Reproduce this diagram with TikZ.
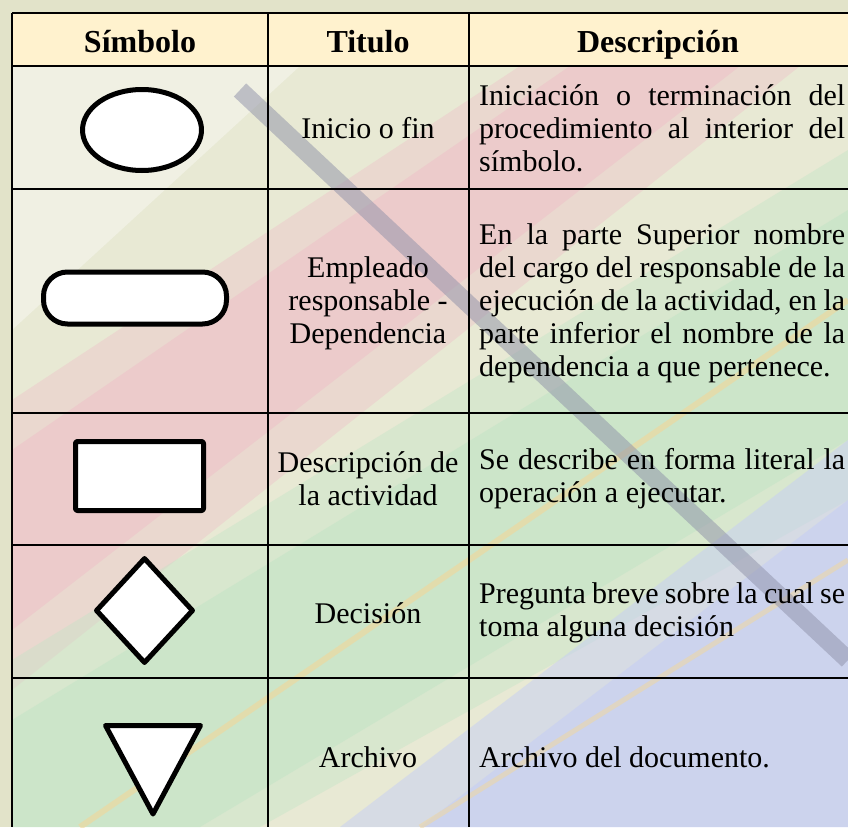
\documentclass[tikz,border=0pt]{standalone}
\usepackage{fontspec}
\setmainfont{Liberation Serif}
\usetikzlibrary{shapes.geometric}
\definecolor{fondo}{HTML}{E2E3C9}
\definecolor{cabecera}{HTML}{FFF2CE}
\definecolor{rosa}{HTML}{EEBFC8}
\definecolor{verde}{HTML}{C2E4C6}
\definecolor{azul}{HTML}{C6CEF4}
\definecolor{gris}{HTML}{8E90A8}
\definecolor{amarillo}{HTML}{F2D79A}
\newcommand{\jline}[1]{\makebox[366pt][s]{#1}}

\begin{document}
\begin{tikzpicture}[x=1pt,y=-1pt,
	linea/.style={line width=2.6pt},
	simbolo/.style={draw=black, fill=white, line width=5pt, line join=round, inner sep=0pt},
	titulo/.style={font=\fontsize{32}{36}\selectfont\bfseries},
	texto/.style={font=\fontsize{30}{33}\selectfont, align=center, inner sep=0pt},
	desc/.style={font=\fontsize{30}{33}\selectfont, align=left, anchor=west, inner sep=0pt}]
	\useasboundingbox (0,0) rectangle (848,827);
	\fill[fondo] (0,0) rectangle (848,827);
	\fill[cabecera] (12,13) rectangle (848,66);
	\begin{scope}
		\clip (12,66) rectangle (848,827);
		\fill[fondo!80!white] (12,66) rectangle (848,827);
		\fill[white, opacity=0.35] (12,66) -- (300,66) -- (12,330) -- cycle;
		\fill[rosa, opacity=0.4] (12,400) -- (520,66) -- (800,66) -- (12,690) -- cycle;
		\fill[rosa, opacity=0.5] (12,450) -- (570,66) -- (740,66) -- (12,630) -- cycle;
		\fill[verde, opacity=0.4] (12,660) -- (848,150) -- (848,500) -- (260,827) -- (12,827) -- cycle;
		\fill[verde, opacity=0.5] (12,720) -- (848,210) -- (848,440) -- (200,827) -- (12,827) -- cycle;
		\fill[azul, opacity=0.5] (340,827) -- (848,440) -- (848,827) -- cycle;
		\fill[azul, opacity=0.6] (420,827) -- (848,500) -- (848,827) -- cycle;
		\draw[amarillo, line width=6pt, opacity=0.6] (80,827) -- (848,300);
		\draw[amarillo, line width=5pt, opacity=0.5] (420,827) -- (848,560);
		\draw[gris, line width=18pt, opacity=0.5] (240,90) -- (848,660);
	\end{scope}
	\draw[linea] (12,13) -- (848,13);
	\draw[linea] (12,66) -- (848,66);
	\draw[linea] (12,189) -- (848,189);
	\draw[linea] (12,413) -- (848,413);
	\draw[linea] (12,545) -- (848,545);
	\draw[linea] (12,678) -- (848,678);
	\draw[linea] (12,13) -- (12,827);
	\draw[linea] (268,13) -- (268,827);
	\draw[linea] (469,13) -- (469,827);
	\node[titulo, anchor=base] (hsimbolo) at (140,52) {Símbolo};
	\node[titulo, anchor=base] (htitulo) at (368,52) {Titulo};
	\node[titulo, anchor=base] (hdesc) at (658,52) {Descripción};
	\node[simbolo, ellipse, minimum width=119pt, minimum height=81pt] (inicio) at (142,130) {};
	\node[simbolo, rectangle, rounded corners=24pt, minimum width=183pt, minimum height=52pt] (empleado) at (135,298) {};
	\node[simbolo, rectangle, rounded corners=2pt, minimum width=128pt, minimum height=69pt] (actividad) at (139.5,476) {};
	\node[simbolo, diamond, minimum width=98pt, minimum height=106pt] (decision) at (144.5,610.5) {};
	\coordinate (a1) at (105.5,725.5);
	\coordinate (a2) at (200.5,725.5);
	\coordinate (a3) at (153,814);
	\draw[simbolo] (a1) -- (a2) -- (a3) -- cycle;
	\node[texto] (t1) at (368,128) {Inicio o fin};
	\node[texto] (t2) at (368,303) {Empleado\\responsable -\\Dependencia};
	\node[texto] (t3) at (368,479) {Descripción de\\la actividad};
	\node[texto] (t4) at (368,613) {Decisión};
	\node[texto] (t5) at (368,757) {Archivo};
	\node[desc] (d1) at (479,128) {\jline{Iniciación o terminación del}\\\jline{procedimiento al interior del}\\símbolo.};
	\node[desc] (d2) at (479,303) {\jline{En la parte Superior nombre}\\\jline{del cargo del responsable de la}\\\jline{ejecución de la actividad, en la}\\\jline{parte inferior el nombre de la}\\dependencia a que pertenece.};
	\node[desc] (d3) at (479,479) {\jline{Se describe en forma literal la}\\operación a ejecutar.};
	\node[desc] (d4) at (479,613) {\jline{Pregunta breve sobre la cual se}\\toma alguna decisión};
	\node[desc] (d5) at (479,757) {Archivo del documento.};
\end{tikzpicture}
\end{document}
